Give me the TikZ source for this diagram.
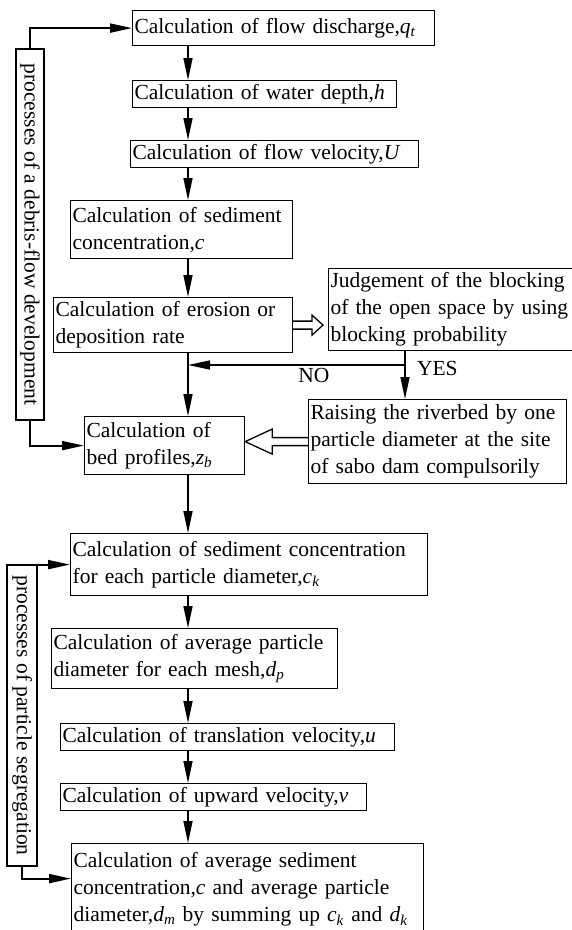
\documentclass[tikz,border=0pt]{standalone}
\usepackage{fontspec}
\setmainfont{Liberation Serif}
\usetikzlibrary{arrows.meta,calc}
\newcommand{\vsub}[2]{\textit{#1}\textsubscript{\textit{#2}}}
\hyphenpenalty=10000

\begin{document}
\begin{tikzpicture}[x=1pt, y=-1pt,
  font=\fontsize{21.5}{27}\selectfont,
  box/.style={draw, line width=1.2pt, anchor=north west, align=left, inner xsep=2pt, inner ysep=1pt},
  side/.style={draw, line width=1.2pt, rotate=-90, inner sep=0pt},
  arr/.style={line width=1.5pt, -{Triangle[length=22pt, width=9pt]}},
  hollow/.style={line width=1.3pt, line join=miter}
]
\useasboundingbox (0,0) rectangle (572,930);
\coordinate (spine) at (188,0);

% main chain
\node[box, text width=298pt, minimum height=35pt] (q) at (132,10) {Calculation of flow discharge,\vsub{q}{t}};
\node[box, text width=260pt, minimum height=27pt] (h) at (132,80) {Calculation of water depth,\textit{h}};
\node[box, text width=284pt, minimum height=27pt] (U) at (130,140) {Calculation of flow velocity,\textit{U}};
\node[box, text width=218pt, minimum height=58pt] (c) at (70,200) {Calculation of sediment\\concentration,\textit{c}};
\node[box, text width=235pt, minimum height=55pt] (ero) at (53,297) {Calculation of erosion or\\deposition rate};
\node[box, text width=244pt, minimum height=82pt] (jdg) at (328,268) {Judgement of the blocking\\of the open space by using\\blocking probability};
\node[box, text width=254pt, minimum height=84pt] (rai) at (308,399) {Raising the riverbed by one\\particle diameter at the site\\of sabo dam compulsorily};
\node[box, text width=156pt, minimum height=58pt] (bed) at (84,416) {Calculation of\\bed profiles,\vsub{z}{b}};
\node[box, text width=353pt, minimum height=62pt] (ck) at (70,533) {Calculation of sediment concentration\\for each particle diameter,\vsub{c}{k}};
\node[box, text width=282pt, minimum height=60pt] (dp) at (51,628) {Calculation of average particle\\diameter for each mesh,\vsub{d}{p}};
\node[box, text width=330pt, minimum height=27pt] (tu) at (60,723) {Calculation of translation velocity,\textit{u}};
\node[box, text width=302pt, minimum height=27pt] (uv) at (60,783) {Calculation of upward velocity,\textit{v}};
\node[box, text width=348pt, minimum height=92pt] (avg) at (71,843) {Calculation of average sediment\\concentration,\textit{c} and average particle\\diameter,\vsub{d}{m} by summing up \vsub{c}{k} and \vsub{d}{k}};

% side boxes
\node[side, minimum width=371pt, minimum height=28pt] (pdev) at (30,234.5) {processes of a debris-flow development};
\node[side, minimum width=301pt, minimum height=30pt] (pseg) at (22,715.5) {processes of particle segregation};

\foreach \a/\b in {q/h, h/U, U/c, c/ero, ero/bed, bed/ck, ck/dp, dp/tu, tu/uv, uv/avg}
  \draw[arr] (\a.south -| spine) -- (\b.north -| spine);

\draw[arr, line width=2pt] (pdev.west) |- (q.west);
\draw[arr, line width=2pt] (pdev.east) |- (bed.west);
\draw[arr, line width=2pt] (pseg.west) |- (ck.west);
\draw[arr, line width=2pt] (pseg.east) |- ([yshift=11pt]avg.west);

% blocking branch
\coordinate (yes) at (405,365);
\draw[line width=1.5pt] (jdg.south -| yes) -- (yes);
\draw[arr] (yes) -- (yes -| spine) node[pos=0.42, below, inner sep=3pt] {NO};
\draw[arr] (yes) -- (rai.north -| yes) node[pos=0.1, anchor=west, xshift=8pt] {YES};

% hollow arrows
\draw[hollow] let \p1=(ero.east), \p2=(ero.east -| jdg.west) in
  (\x1,\y1+4pt) -- (\x2-16pt,\y1+4pt) -- (\x2-16pt,\y1+10pt) -- (\x2-5pt,\y1)
  -- (\x2-16pt,\y1-10pt) -- (\x2-16pt,\y1-4pt) -- (\x1,\y1-4pt);
\draw[hollow] let \p1=(rai.west), \p2=(rai.west -| bed.east) in
  (\x1,\y1+4pt) -- (\x2+27pt,\y1+4pt) -- (\x2+27pt,\y1+12.5pt) -- (\x2,\y1)
  -- (\x2+27pt,\y1-12.5pt) -- (\x2+27pt,\y1-4pt) -- (\x1,\y1-4pt);
\end{tikzpicture}
\end{document}
